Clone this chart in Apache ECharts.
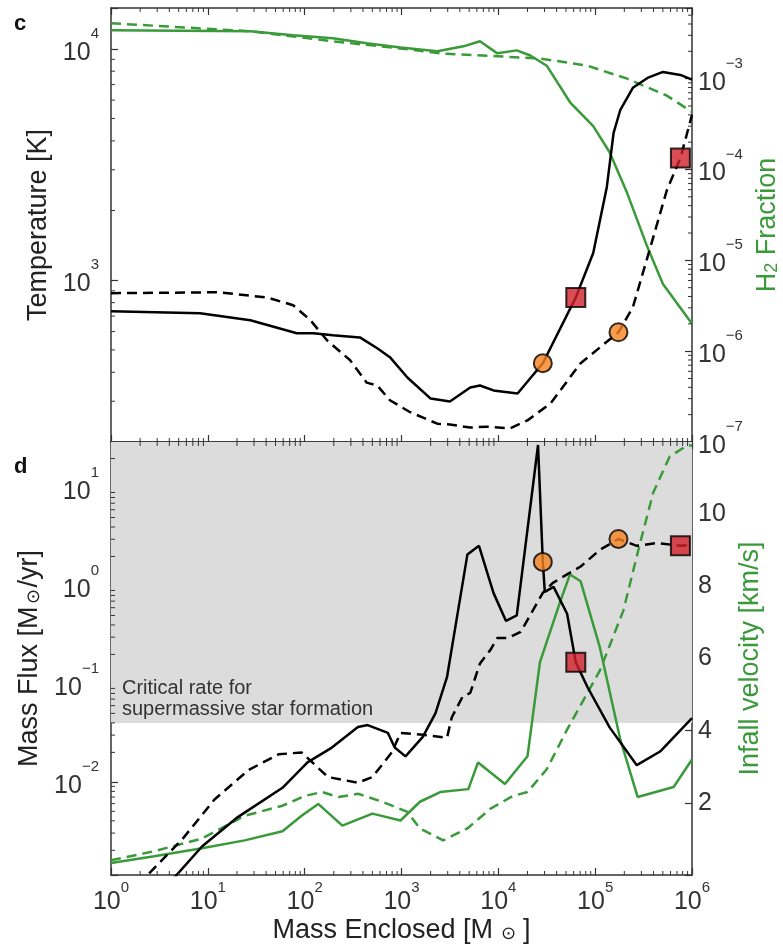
<!DOCTYPE html>
<html>
<head>
<meta charset="utf-8">
<script src="https://cdn.jsdelivr.net/npm/echarts@6/dist/echarts.min.js"></script>
<style>
html, body { margin: 0; padding: 0; background: #fff; }
#chart { width: 783px; height: 949px; }
</style>
</head>
<body>
<div id="chart"></div>
<script>
// [mass enclosed (Msun), value]

// panel c, temperature (K)
const tempSolid = [[1, 735], [8.3, 720], [27.5, 671], [83, 590], [123, 590], [195, 578], [372, 566], [562, 508],
  [759, 465], [1150, 380], [2000, 308], [3160, 299], [5130, 344], [6460, 351], [8910, 334], [15800, 324],
  [28800, 438], [63100, 843], [95500, 1310], [132000, 2530], [155000, 4330], [182000, 5450], [245000, 6780],
  [347000, 7480], [501000, 7940], [759000, 7710], [1000000, 7350]];
const tempDashed = [[1, 879], [12.6, 887], [40.7, 843], [76, 780], [115, 671], [170, 550], [295, 451], [437, 361],
  [562, 351], [759, 303], [1230, 269], [2340, 240], [3160, 238], [5130, 231], [7590, 233], [13200, 229],
  [20000, 248], [34700, 294], [70800, 438], [174000, 596], [245000, 764], [372000, 1390], [550000, 2450],
  [759000, 3370], [1000000, 5180]];
// panel c, H2 fraction
const h2Solid = [[1, 3.41e-3], [27.5, 3.33e-3], [76, 3.01e-3], [195, 2.78e-3], [437, 2.45e-3], [977, 2.21e-3],
  [2340, 2.0e-3], [4370, 2.27e-3], [6460, 2.58e-3], [9770, 1.90e-3], [15500, 2.05e-3], [21400, 1.80e-3],
  [31600, 1.39e-3], [55000, 5.5e-4], [95500, 3.0e-4], [141000, 1.55e-4], [214000, 5.5e-5], [347000, 1.39e-5],
  [501000, 5.5e-6], [1000000, 2.0e-6]];
const h2Dashed = [[1, 4.08e-3], [27.5, 3.33e-3], [195, 2.58e-3], [977, 2.15e-3], [2510, 1.90e-3], [26900, 1.67e-3],
  [83200, 1.39e-3], [214000, 1.0e-3], [550000, 6.5e-4], [1000000, 4.3e-4]];

// panel d, mass flux (Msun/yr)
const fluxSolid = [[3.16, 7.1e-4], [8.7, 2.19e-3], [20.4, 4.37e-3], [59, 8.7e-3], [107, 0.0158], [191, 0.0224],
  [355, 0.0363], [447, 0.038], [724, 0.0316], [851, 0.0224], [1100, 0.0182], [1660, 0.0288], [2240, 0.050],
  [2950, 0.117], [4790, 2.09], [6310, 2.57], [8910, 0.85], [12000, 0.44], [15500, 0.50], [25700, 27.5],
  [28800, 1.76], [30200, 0.87], [37200, 0.98], [51300, 0.52], [63100, 0.166], [83200, 0.093], [141000, 0.036],
  [269000, 0.0148], [468000, 0.0204], [1000000, 0.0447]];
const fluxDashed = [[1.9, 8.9e-4], [5.4, 2.57e-3], [11.7, 6.6e-3], [26.3, 0.0132], [53.7, 0.0191], [93, 0.020],
  [120, 0.0158], [174, 0.0112], [355, 0.0098], [501, 0.0112], [794, 0.020], [977, 0.0316], [1660, 0.0302],
  [2950, 0.0282], [3310, 0.0457], [4270, 0.074], [5130, 0.081], [6460, 0.162], [8320, 0.224], [9770, 0.295],
  [12600, 0.295], [17000, 0.339], [28800, 0.85], [36300, 1.07], [45700, 1.23], [70800, 1.58], [112000, 2.34],
  [174000, 3.02], [269000, 2.57], [437000, 2.75], [759000, 2.57], [1000000, 2.63]];
// panel d, infall velocity (km/s)
const velSolid = [[1, 0.33], [2.8, 0.52], [8.7, 0.74], [24, 0.96], [59, 1.21], [93, 1.64], [138, 1.97], [245, 1.37],
  [501, 1.70], [977, 1.51], [1550, 2.03], [2510, 2.30], [4900, 2.38], [6170, 3.12], [11700, 2.52], [20000, 3.29],
  [26900, 5.9], [43700, 7.59], [55000, 8.33], [70800, 8.14], [112000, 6.30], [182000, 3.75], [275000, 2.16],
  [646000, 2.44], [1000000, 3.2]];
const velDashed = [[1, 0.41], [2.8, 0.66], [8.7, 1.01], [24, 1.64], [59, 1.92], [100, 2.19], [151, 2.30], [224, 2.16],
  [355, 2.25], [631, 2.03], [1150, 1.75], [1550, 1.29], [2690, 0.96], [4790, 1.29], [8320, 1.84], [14100, 2.19],
  [20000, 2.30], [31600, 2.93], [51300, 4.03], [112000, 5.67], [195000, 7.32], [288000, 9.15], [398000, 10.6],
  [589000, 11.6], [891000, 11.9], [1000000, 11.9]];

// marked points
const tempCircles = [[28800, 438], [174000, 596]];
const tempSquares = [[63100, 843], [759000, 3370]];
const fluxCircles = [[28800, 1.76], [174000, 3.02]];
const fluxSquares = [[63100, 0.166], [759000, 2.57]];

const criticalRate = 0.04;

const FONT = '"Liberation Sans", Arial, sans-serif';
const GREEN = '#3a9a3a';
const INK = '#333';

function sci(v) {
  const l = Math.log10(v), e = Math.round(l);
  if (Math.abs(l - e) > 1e-6) return '';
  return '{b|10}{s|' + (e < 0 ? '\u2212' + (-e) : e) + '}';
}
const sciRich = {
  b: { fontSize: 25, fontFamily: FONT, color: INK },
  s: { fontSize: 15, fontFamily: FONT, color: INK, padding: [0, 0, 30, 0] }
};
const sciRichY = {
  b: { fontSize: 25, fontFamily: FONT, color: INK, padding: [8, 0, 0, 0] },
  s: { fontSize: 15, fontFamily: FONT, color: INK, padding: [0, 0, 30, 0] }
};

// minor ticks at 2..9 x 10^n inside [lo, hi]
function minors(lo, hi) {
  const out = [];
  for (let e = -8; e < 7; e++) {
    for (let m = 2; m <= 9; m++) {
      const v = m * Math.pow(10, e);
      if (v > lo && v < hi) out.push(v);
    }
  }
  return out;
}
function tickSeries(xi, yi, pts, dx, dy) {
  return {
    type: 'custom', xAxisIndex: xi, yAxisIndex: yi, silent: true, clip: false, z: 6,
    data: pts,
    renderItem: function (params, api) {
      const p = api.coord([api.value(0), api.value(1)]);
      return {
        type: 'line',
        shape: { x1: p[0], y1: p[1], x2: p[0] + dx, y2: p[1] + dy },
        style: { stroke: INK, lineWidth: 1 }
      };
    }
  };
}

const axisLine = { show: true, onZero: false, lineStyle: { color: INK, width: 1.5 } };
const tick = { show: true, inside: true, length: 7, lineStyle: { color: INK, width: 1.2 } };

function xLog(grid, pos, labels) {
  return {
    type: 'log', logBase: 10, gridIndex: grid, position: pos, min: 1, max: 1e6,
    axisLine: axisLine, axisTick: tick, splitLine: { show: false },
    axisLabel: labels ? { show: true, formatter: sci, rich: sciRich, margin: 5 } : { show: false }
  };
}

const chart = echarts.init(document.getElementById('chart'));

const xMinor = minors(1, 1e6);
const tMinor = minors(200, 15000);
const hMinor = minors(1e-7, 6e-3);
const fMinor = minors(0.00112, 29.5);

chart.setOption({
  animation: false,
  textStyle: { fontFamily: FONT },
  grid: [
    { left: 111, top: 8, width: 581, height: 434, outerBoundsMode: 'none', containLabel: false },
    { left: 111, top: 442, width: 581, height: 433, outerBoundsMode: 'none', containLabel: false }
  ],
  xAxis: [
    xLog(0, 'bottom', false),
    xLog(0, 'top', false),
    Object.assign(xLog(1, 'bottom', true), {
      name: '{a|Mass Enclosed [M }{o|\u2299}{a| ]}', nameLocation: 'middle', nameGap: 42,
      nameTextStyle: { rich: {
        a: { fontSize: 27, fontFamily: FONT, color: '#222' },
        o: { fontSize: 18, fontFamily: FONT, color: '#222', padding: [8, 0, 0, 0] }
      } }
    }),
    xLog(1, 'top', false)
  ],
  yAxis: [
    {
      type: 'log', logBase: 10, gridIndex: 0, position: 'left', min: 200, max: 15000,
      axisLine: axisLine, axisTick: tick, splitLine: { show: false },
      axisLabel: { formatter: sci, rich: sciRichY, margin: 12 },
      name: 'Temperature [K]', nameLocation: 'middle', nameRotate: 90, nameGap: 49,
      nameTextStyle: { fontSize: 27, color: '#222', fontFamily: FONT }
    },
    {
      type: 'log', logBase: 10, gridIndex: 0, position: 'right', min: 1e-7, max: 6e-3,
      axisLine: axisLine, axisTick: tick, splitLine: { show: false },
      axisLabel: { formatter: sci, rich: sciRichY, margin: 6 },
      name: '{a|H}{b|2}{a| Fraction}', nameLocation: 'middle', nameRotate: 90, nameGap: 60,
      nameTextStyle: { rich: {
        a: { fontSize: 27, fontFamily: FONT, color: GREEN },
        b: { fontSize: 18, fontFamily: FONT, color: GREEN, padding: [10, 0, 0, 0] }
      } }
    },
    {
      type: 'log', logBase: 10, gridIndex: 1, position: 'left', min: 0.00112, max: 29.5,
      axisLine: axisLine, axisTick: tick, splitLine: { show: false },
      axisLabel: { formatter: sci, rich: sciRichY, margin: 12 },
      name: '{a|Mass Flux [M}{o|\u2299}{a|/yr]}', nameLocation: 'middle', nameRotate: 90, nameGap: 63,
      nameTextStyle: { rich: {
        a: { fontSize: 27, fontFamily: FONT, color: '#222' },
        o: { fontSize: 18, fontFamily: FONT, color: '#222', padding: [8, 2, 0, 2] }
      } }
    },
    {
      type: 'value', gridIndex: 1, position: 'right', min: 0, max: 12, interval: 2,
      axisLine: axisLine, axisTick: tick, splitLine: { show: false },
      axisLabel: {
        fontSize: 25, color: INK, fontFamily: FONT, margin: 6,
        formatter: function (v) { return (v > 0 && v < 12) ? String(v) : ''; }
      },
      name: 'Infall velocity [km/s]', nameLocation: 'middle', nameRotate: 90, nameGap: 39,
      nameTextStyle: { fontSize: 27, color: GREEN, fontFamily: FONT }
    }
  ],
  graphic: [
    { type: 'text', left: 14, top: 13, style: { text: 'c', font: 'bold 22px ' + FONT, fill: '#111' } },
    { type: 'text', left: 14, top: 456, style: { text: 'd', font: 'bold 22px ' + FONT, fill: '#111' } },
    { type: 'text', left: 122, top: 678, z: 10, style: {
      text: 'Critical rate for\nsupermassive star formation', font: '20px ' + FONT, fill: '#333', lineHeight: 21 } }
  ],
  series: [
    // shaded band above the critical rate
    {
      type: 'line', xAxisIndex: 2, yAxisIndex: 2, data: [], z: 0, silent: true,
      markArea: { silent: true, itemStyle: { color: '#dcdcdc' },
        data: [[{ xAxis: 1, yAxis: criticalRate }, { xAxis: 1e6, yAxis: 29.5 }]] }
    },
    { type: 'line', xAxisIndex: 0, yAxisIndex: 1, data: h2Dashed, symbol: 'none', z: 2,
      lineStyle: { color: GREEN, width: 2.5, type: [10, 6] } },
    { type: 'line', xAxisIndex: 0, yAxisIndex: 1, data: h2Solid, symbol: 'none', z: 2,
      lineStyle: { color: GREEN, width: 2.5 } },
    { type: 'line', xAxisIndex: 0, yAxisIndex: 0, data: tempDashed, symbol: 'none', z: 3,
      lineStyle: { color: '#000', width: 2.5, type: [10, 6] } },
    { type: 'line', xAxisIndex: 0, yAxisIndex: 0, data: tempSolid, symbol: 'none', z: 3,
      lineStyle: { color: '#000', width: 2.5 } },

    { type: 'line', xAxisIndex: 2, yAxisIndex: 3, data: velDashed, symbol: 'none', z: 2,
      lineStyle: { color: GREEN, width: 2.5, type: [10, 6] } },
    { type: 'line', xAxisIndex: 2, yAxisIndex: 3, data: velSolid, symbol: 'none', z: 2,
      lineStyle: { color: GREEN, width: 2.5 } },
    { type: 'line', xAxisIndex: 2, yAxisIndex: 2, data: fluxDashed, symbol: 'none', z: 3,
      lineStyle: { color: '#000', width: 2.5, type: [10, 6] } },
    { type: 'line', xAxisIndex: 2, yAxisIndex: 2, data: fluxSolid, symbol: 'none', z: 3,
      lineStyle: { color: '#000', width: 2.5 } },

    { type: 'scatter', xAxisIndex: 0, yAxisIndex: 0, data: tempCircles, symbol: 'circle', symbolSize: 18, z: 5,
      itemStyle: { color: '#f7821f', borderColor: '#000', borderWidth: 2 } },
    { type: 'scatter', xAxisIndex: 0, yAxisIndex: 0, data: tempSquares, symbol: 'rect', symbolSize: 19, z: 5,
      itemStyle: { color: '#d2202b', borderColor: '#000', borderWidth: 2 } },
    { type: 'scatter', xAxisIndex: 2, yAxisIndex: 2, data: fluxCircles, symbol: 'circle', symbolSize: 18, z: 5,
      itemStyle: { color: '#f7821f', borderColor: '#000', borderWidth: 2 } },
    { type: 'scatter', xAxisIndex: 2, yAxisIndex: 2, data: fluxSquares, symbol: 'rect', symbolSize: 19, z: 5,
      itemStyle: { color: '#d2202b', borderColor: '#000', borderWidth: 2 } },

    // minor ticks on the log axes
    tickSeries(0, 0, xMinor.map(v => [v, 200]), 0, -4),
    tickSeries(0, 0, xMinor.map(v => [v, 15000]), 0, 4),
    tickSeries(2, 2, xMinor.map(v => [v, 0.00112]), 0, -4),
    tickSeries(2, 2, xMinor.map(v => [v, 29.5]), 0, 4),
    tickSeries(0, 0, tMinor.map(v => [1, v]), 4, 0),
    tickSeries(0, 1, hMinor.map(v => [1e6, v]), -4, 0),
    tickSeries(2, 2, fMinor.map(v => [1, v]), 4, 0)
  ]
});
</script>
</body>
</html>
